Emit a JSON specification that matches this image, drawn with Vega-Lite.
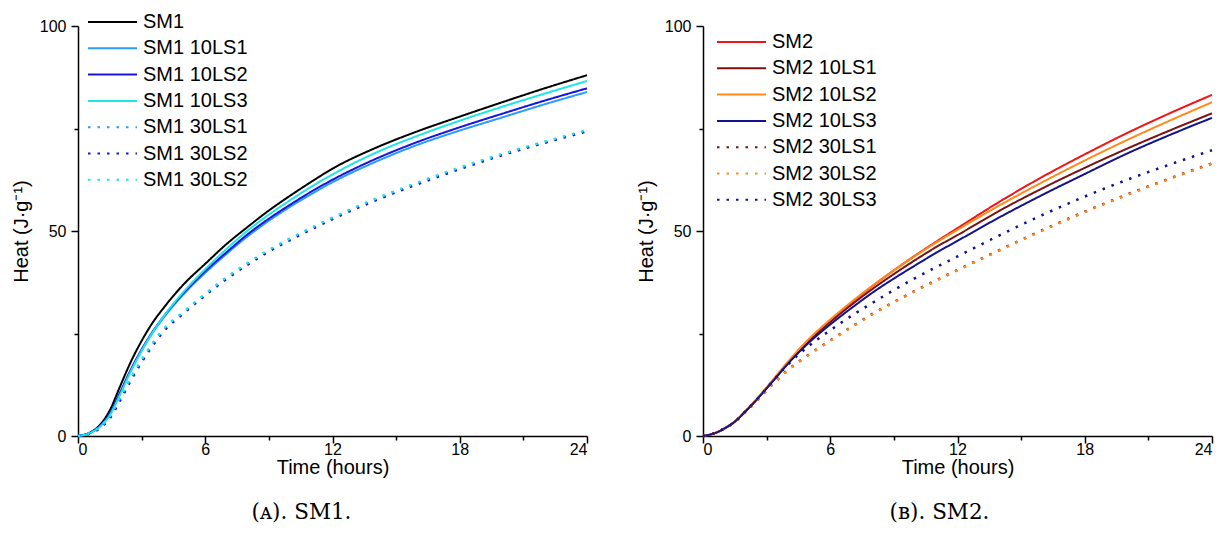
{
"$schema": "https://vega.github.io/schema/vega-lite/v6.json",
"background": "white",
"padding": {"left": 11, "top": 12, "right": 5, "bottom": 5},
"bounds": "flush",
"spacing": 116,
"config": {
  "view": {"stroke": null},
  "font": "Liberation Sans",
  "axis": {"grid": false, "domainColor": "#000", "domainWidth": 1.5, "tickColor": "#000", "tickWidth": 1.5, "labelColor": "#000", "labelFont": "Liberation Sans", "labelFontSize": 16, "titleFont": "Liberation Sans", "titleFontSize": 20, "titleFontWeight": "normal", "titleColor": "#000"}
},
"resolve": {"scale": {"color": "independent", "strokeDash": "independent"}, "legend": {"color": "independent", "strokeDash": "independent"}},
"datasets": {
"sm1": [
{"series":"SM1","time":0,"heat":0},{"series":"SM1","time":0.5,"heat":0.7},{"series":"SM1","time":1,"heat":2.5},{"series":"SM1","time":1.5,"heat":6.3},{"series":"SM1","time":2,"heat":12.3},{"series":"SM1","time":2.5,"heat":18.2},{"series":"SM1","time":3,"heat":23.2},{"series":"SM1","time":3.5,"heat":27.5},{"series":"SM1","time":4,"heat":31},{"series":"SM1","time":5,"heat":37.1},{"series":"SM1","time":6,"heat":42},{"series":"SM1","time":7,"heat":46.8},{"series":"SM1","time":8,"heat":51},{"series":"SM1","time":9,"heat":55},{"series":"SM1","time":10,"heat":58.6},{"series":"SM1","time":11,"heat":62},{"series":"SM1","time":12,"heat":65.2},{"series":"SM1","time":14,"heat":70.2},{"series":"SM1","time":16,"heat":74.3},{"series":"SM1","time":18,"heat":77.9},{"series":"SM1","time":20,"heat":81.4},{"series":"SM1","time":22,"heat":84.8},{"series":"SM1","time":24,"heat":88},
{"series":"SM1 10LS1","time":0,"heat":0},{"series":"SM1 10LS1","time":0.5,"heat":0.6},{"series":"SM1 10LS1","time":1,"heat":2.2},{"series":"SM1 10LS1","time":1.5,"heat":5.3},{"series":"SM1 10LS1","time":2,"heat":10.5},{"series":"SM1 10LS1","time":2.5,"heat":16},{"series":"SM1 10LS1","time":3,"heat":20.8},{"series":"SM1 10LS1","time":3.5,"heat":25},{"series":"SM1 10LS1","time":4,"heat":28.6},{"series":"SM1 10LS1","time":5,"heat":34.7},{"series":"SM1 10LS1","time":6,"heat":39.8},{"series":"SM1 10LS1","time":7,"heat":44.4},{"series":"SM1 10LS1","time":8,"heat":48.7},{"series":"SM1 10LS1","time":9,"heat":52.5},{"series":"SM1 10LS1","time":10,"heat":55.9},{"series":"SM1 10LS1","time":11,"heat":59},{"series":"SM1 10LS1","time":12,"heat":61.9},{"series":"SM1 10LS1","time":14,"heat":66.8},{"series":"SM1 10LS1","time":16,"heat":71},{"series":"SM1 10LS1","time":18,"heat":74.5},{"series":"SM1 10LS1","time":20,"heat":77.7},{"series":"SM1 10LS1","time":22,"heat":80.9},{"series":"SM1 10LS1","time":24,"heat":83.9},
{"series":"SM1 10LS2","time":0,"heat":0},{"series":"SM1 10LS2","time":0.5,"heat":0.6},{"series":"SM1 10LS2","time":1,"heat":2.3},{"series":"SM1 10LS2","time":1.5,"heat":5.5},{"series":"SM1 10LS2","time":2,"heat":10.8},{"series":"SM1 10LS2","time":2.5,"heat":16.3},{"series":"SM1 10LS2","time":3,"heat":21.1},{"series":"SM1 10LS2","time":3.5,"heat":25.3},{"series":"SM1 10LS2","time":4,"heat":28.9},{"series":"SM1 10LS2","time":5,"heat":35},{"series":"SM1 10LS2","time":6,"heat":40.2},{"series":"SM1 10LS2","time":7,"heat":44.8},{"series":"SM1 10LS2","time":8,"heat":49.2},{"series":"SM1 10LS2","time":9,"heat":53},{"series":"SM1 10LS2","time":10,"heat":56.4},{"series":"SM1 10LS2","time":11,"heat":59.6},{"series":"SM1 10LS2","time":12,"heat":62.5},{"series":"SM1 10LS2","time":14,"heat":67.5},{"series":"SM1 10LS2","time":16,"heat":71.7},{"series":"SM1 10LS2","time":18,"heat":75.3},{"series":"SM1 10LS2","time":20,"heat":78.6},{"series":"SM1 10LS2","time":22,"heat":81.8},{"series":"SM1 10LS2","time":24,"heat":84.8},
{"series":"SM1 10LS3","time":0,"heat":0},{"series":"SM1 10LS3","time":0.5,"heat":0.6},{"series":"SM1 10LS3","time":1,"heat":2.1},{"series":"SM1 10LS3","time":1.5,"heat":5.1},{"series":"SM1 10LS3","time":2,"heat":10.3},{"series":"SM1 10LS3","time":2.5,"heat":15.9},{"series":"SM1 10LS3","time":3,"heat":20.8},{"series":"SM1 10LS3","time":3.5,"heat":25.1},{"series":"SM1 10LS3","time":4,"heat":28.9},{"series":"SM1 10LS3","time":5,"heat":35.3},{"series":"SM1 10LS3","time":6,"heat":40.7},{"series":"SM1 10LS3","time":7,"heat":45.6},{"series":"SM1 10LS3","time":8,"heat":50.1},{"series":"SM1 10LS3","time":9,"heat":54},{"series":"SM1 10LS3","time":10,"heat":57.5},{"series":"SM1 10LS3","time":11,"heat":60.8},{"series":"SM1 10LS3","time":12,"heat":63.8},{"series":"SM1 10LS3","time":14,"heat":69},{"series":"SM1 10LS3","time":16,"heat":73.2},{"series":"SM1 10LS3","time":18,"heat":76.9},{"series":"SM1 10LS3","time":20,"heat":80.3},{"series":"SM1 10LS3","time":22,"heat":83.5},{"series":"SM1 10LS3","time":24,"heat":86.6},
{"series":"SM1 30LS1","time":0,"heat":0},{"series":"SM1 30LS1","time":0.5,"heat":0.6},{"series":"SM1 30LS1","time":1,"heat":2},{"series":"SM1 30LS1","time":1.5,"heat":4.6},{"series":"SM1 30LS1","time":2,"heat":9.2},{"series":"SM1 30LS1","time":2.5,"heat":14},{"series":"SM1 30LS1","time":3,"heat":18.3},{"series":"SM1 30LS1","time":3.5,"heat":22.2},{"series":"SM1 30LS1","time":4,"heat":25.6},{"series":"SM1 30LS1","time":5,"heat":30.2},{"series":"SM1 30LS1","time":6,"heat":34.5},{"series":"SM1 30LS1","time":7,"heat":38.5},{"series":"SM1 30LS1","time":8,"heat":42},{"series":"SM1 30LS1","time":9,"heat":45.2},{"series":"SM1 30LS1","time":10,"heat":48},{"series":"SM1 30LS1","time":11,"heat":50.6},{"series":"SM1 30LS1","time":12,"heat":53.1},{"series":"SM1 30LS1","time":14,"heat":57.6},{"series":"SM1 30LS1","time":16,"heat":61.6},{"series":"SM1 30LS1","time":18,"heat":65.3},{"series":"SM1 30LS1","time":20,"heat":68.6},{"series":"SM1 30LS1","time":22,"heat":71.6},{"series":"SM1 30LS1","time":24,"heat":74.4},
{"series":"SM1 30LS2","time":0,"heat":0},{"series":"SM1 30LS2","time":0.5,"heat":0.5},{"series":"SM1 30LS2","time":1,"heat":1.8},{"series":"SM1 30LS2","time":1.5,"heat":4.3},{"series":"SM1 30LS2","time":2,"heat":8.8},{"series":"SM1 30LS2","time":2.5,"heat":13.6},{"series":"SM1 30LS2","time":3,"heat":18},{"series":"SM1 30LS2","time":3.5,"heat":21.9},{"series":"SM1 30LS2","time":4,"heat":25.3},{"series":"SM1 30LS2","time":5,"heat":30},{"series":"SM1 30LS2","time":6,"heat":34.3},{"series":"SM1 30LS2","time":7,"heat":38.3},{"series":"SM1 30LS2","time":8,"heat":41.8},{"series":"SM1 30LS2","time":9,"heat":45},{"series":"SM1 30LS2","time":10,"heat":47.8},{"series":"SM1 30LS2","time":11,"heat":50.4},{"series":"SM1 30LS2","time":12,"heat":52.9},{"series":"SM1 30LS2","time":14,"heat":57.4},{"series":"SM1 30LS2","time":16,"heat":61.4},{"series":"SM1 30LS2","time":18,"heat":65.1},{"series":"SM1 30LS2","time":20,"heat":68.5},{"series":"SM1 30LS2","time":22,"heat":71.5},{"series":"SM1 30LS2","time":24,"heat":74.3},
{"series":"SM1 30LS3","time":0,"heat":0},{"series":"SM1 30LS3","time":0.5,"heat":0.6},{"series":"SM1 30LS3","time":1,"heat":2.1},{"series":"SM1 30LS3","time":1.5,"heat":4.8},{"series":"SM1 30LS3","time":2,"heat":9.5},{"series":"SM1 30LS3","time":2.5,"heat":14.3},{"series":"SM1 30LS3","time":3,"heat":18.6},{"series":"SM1 30LS3","time":3.5,"heat":22.5},{"series":"SM1 30LS3","time":4,"heat":25.9},{"series":"SM1 30LS3","time":5,"heat":30.4},{"series":"SM1 30LS3","time":6,"heat":34.7},{"series":"SM1 30LS3","time":7,"heat":38.7},{"series":"SM1 30LS3","time":8,"heat":42.2},{"series":"SM1 30LS3","time":9,"heat":45.4},{"series":"SM1 30LS3","time":10,"heat":48.2},{"series":"SM1 30LS3","time":11,"heat":50.8},{"series":"SM1 30LS3","time":12,"heat":53.3},{"series":"SM1 30LS3","time":14,"heat":57.8},{"series":"SM1 30LS3","time":16,"heat":61.8},{"series":"SM1 30LS3","time":18,"heat":65.5},{"series":"SM1 30LS3","time":20,"heat":68.8},{"series":"SM1 30LS3","time":22,"heat":71.8},{"series":"SM1 30LS3","time":24,"heat":74.6}
],
"sm2": [
{"series":"SM2","time":0,"heat":0},{"series":"SM2","time":0.5,"heat":0.6},{"series":"SM2","time":1,"heat":1.8},{"series":"SM2","time":1.5,"heat":3.5},{"series":"SM2","time":2,"heat":6},{"series":"SM2","time":2.5,"heat":8.7},{"series":"SM2","time":3,"heat":11.7},{"series":"SM2","time":3.5,"heat":14.8},{"series":"SM2","time":4,"heat":17.9},{"series":"SM2","time":5,"heat":23.5},{"series":"SM2","time":6,"heat":28.2},{"series":"SM2","time":7,"heat":32.5},{"series":"SM2","time":8,"heat":36.6},{"series":"SM2","time":9,"heat":40.4},{"series":"SM2","time":10,"heat":44},{"series":"SM2","time":11,"heat":47.4},{"series":"SM2","time":12,"heat":50.7},{"series":"SM2","time":14,"heat":57.2},{"series":"SM2","time":16,"heat":63.2},{"series":"SM2","time":18,"heat":68.7},{"series":"SM2","time":20,"heat":73.9},{"series":"SM2","time":22,"heat":78.7},{"series":"SM2","time":24,"heat":83.2},
{"series":"SM2 10LS1","time":0,"heat":0},{"series":"SM2 10LS1","time":0.5,"heat":0.6},{"series":"SM2 10LS1","time":1,"heat":1.8},{"series":"SM2 10LS1","time":1.5,"heat":3.5},{"series":"SM2 10LS1","time":2,"heat":6},{"series":"SM2 10LS1","time":2.5,"heat":8.7},{"series":"SM2 10LS1","time":3,"heat":11.7},{"series":"SM2 10LS1","time":3.5,"heat":14.7},{"series":"SM2 10LS1","time":4,"heat":17.7},{"series":"SM2 10LS1","time":5,"heat":23.2},{"series":"SM2 10LS1","time":6,"heat":27.8},{"series":"SM2 10LS1","time":7,"heat":32},{"series":"SM2 10LS1","time":8,"heat":35.9},{"series":"SM2 10LS1","time":9,"heat":39.5},{"series":"SM2 10LS1","time":10,"heat":42.9},{"series":"SM2 10LS1","time":11,"heat":46.1},{"series":"SM2 10LS1","time":12,"heat":49},{"series":"SM2 10LS1","time":14,"heat":55},{"series":"SM2 10LS1","time":16,"heat":60.4},{"series":"SM2 10LS1","time":18,"heat":65.4},{"series":"SM2 10LS1","time":20,"heat":70.1},{"series":"SM2 10LS1","time":22,"heat":74.5},{"series":"SM2 10LS1","time":24,"heat":78.7},
{"series":"SM2 10LS2","time":0,"heat":0},{"series":"SM2 10LS2","time":0.5,"heat":0.6},{"series":"SM2 10LS2","time":1,"heat":1.8},{"series":"SM2 10LS2","time":1.5,"heat":3.6},{"series":"SM2 10LS2","time":2,"heat":6.1},{"series":"SM2 10LS2","time":2.5,"heat":8.9},{"series":"SM2 10LS2","time":3,"heat":11.9},{"series":"SM2 10LS2","time":3.5,"heat":15},{"series":"SM2 10LS2","time":4,"heat":18.1},{"series":"SM2 10LS2","time":5,"heat":23.7},{"series":"SM2 10LS2","time":6,"heat":28.4},{"series":"SM2 10LS2","time":7,"heat":32.7},{"series":"SM2 10LS2","time":8,"heat":36.7},{"series":"SM2 10LS2","time":9,"heat":40.4},{"series":"SM2 10LS2","time":10,"heat":43.9},{"series":"SM2 10LS2","time":11,"heat":47.2},{"series":"SM2 10LS2","time":12,"heat":50.3},{"series":"SM2 10LS2","time":14,"heat":56.3},{"series":"SM2 10LS2","time":16,"heat":61.9},{"series":"SM2 10LS2","time":18,"heat":67.2},{"series":"SM2 10LS2","time":20,"heat":72.2},{"series":"SM2 10LS2","time":22,"heat":76.9},{"series":"SM2 10LS2","time":24,"heat":81.4},
{"series":"SM2 10LS3","time":0,"heat":0},{"series":"SM2 10LS3","time":0.5,"heat":0.6},{"series":"SM2 10LS3","time":1,"heat":1.8},{"series":"SM2 10LS3","time":1.5,"heat":3.5},{"series":"SM2 10LS3","time":2,"heat":6},{"series":"SM2 10LS3","time":2.5,"heat":8.7},{"series":"SM2 10LS3","time":3,"heat":11.6},{"series":"SM2 10LS3","time":3.5,"heat":14.6},{"series":"SM2 10LS3","time":4,"heat":17.6},{"series":"SM2 10LS3","time":5,"heat":22.8},{"series":"SM2 10LS3","time":6,"heat":27.2},{"series":"SM2 10LS3","time":7,"heat":31.2},{"series":"SM2 10LS3","time":8,"heat":35},{"series":"SM2 10LS3","time":9,"heat":38.4},{"series":"SM2 10LS3","time":10,"heat":41.6},{"series":"SM2 10LS3","time":11,"heat":44.7},{"series":"SM2 10LS3","time":12,"heat":47.6},{"series":"SM2 10LS3","time":14,"heat":53.4},{"series":"SM2 10LS3","time":16,"heat":58.8},{"series":"SM2 10LS3","time":18,"heat":63.9},{"series":"SM2 10LS3","time":20,"heat":68.9},{"series":"SM2 10LS3","time":22,"heat":73.4},{"series":"SM2 10LS3","time":24,"heat":77.6},
{"series":"SM2 30LS1","time":0,"heat":0},{"series":"SM2 30LS1","time":0.5,"heat":0.6},{"series":"SM2 30LS1","time":1,"heat":1.8},{"series":"SM2 30LS1","time":1.5,"heat":3.4},{"series":"SM2 30LS1","time":2,"heat":5.8},{"series":"SM2 30LS1","time":2.5,"heat":8.4},{"series":"SM2 30LS1","time":3,"heat":11.1},{"series":"SM2 30LS1","time":3.5,"heat":13.7},{"series":"SM2 30LS1","time":4,"heat":16.1},{"series":"SM2 30LS1","time":5,"heat":19.9},{"series":"SM2 30LS1","time":6,"heat":23.3},{"series":"SM2 30LS1","time":7,"heat":26.6},{"series":"SM2 30LS1","time":8,"heat":29.8},{"series":"SM2 30LS1","time":9,"heat":32.7},{"series":"SM2 30LS1","time":10,"heat":35.4},{"series":"SM2 30LS1","time":11,"heat":38},{"series":"SM2 30LS1","time":12,"heat":40.5},{"series":"SM2 30LS1","time":14,"heat":45.4},{"series":"SM2 30LS1","time":16,"heat":50.2},{"series":"SM2 30LS1","time":18,"heat":54.7},{"series":"SM2 30LS1","time":20,"heat":58.9},{"series":"SM2 30LS1","time":22,"heat":62.8},{"series":"SM2 30LS1","time":24,"heat":66.5},
{"series":"SM2 30LS2","time":0,"heat":0},{"series":"SM2 30LS2","time":0.5,"heat":0.6},{"series":"SM2 30LS2","time":1,"heat":1.8},{"series":"SM2 30LS2","time":1.5,"heat":3.4},{"series":"SM2 30LS2","time":2,"heat":5.8},{"series":"SM2 30LS2","time":2.5,"heat":8.4},{"series":"SM2 30LS2","time":3,"heat":11.1},{"series":"SM2 30LS2","time":3.5,"heat":13.7},{"series":"SM2 30LS2","time":4,"heat":16},{"series":"SM2 30LS2","time":5,"heat":19.8},{"series":"SM2 30LS2","time":6,"heat":23.2},{"series":"SM2 30LS2","time":7,"heat":26.5},{"series":"SM2 30LS2","time":8,"heat":29.7},{"series":"SM2 30LS2","time":9,"heat":32.6},{"series":"SM2 30LS2","time":10,"heat":35.3},{"series":"SM2 30LS2","time":11,"heat":37.9},{"series":"SM2 30LS2","time":12,"heat":40.4},{"series":"SM2 30LS2","time":14,"heat":45.3},{"series":"SM2 30LS2","time":16,"heat":50.1},{"series":"SM2 30LS2","time":18,"heat":54.6},{"series":"SM2 30LS2","time":20,"heat":58.8},{"series":"SM2 30LS2","time":22,"heat":62.7},{"series":"SM2 30LS2","time":24,"heat":66.4},
{"series":"SM2 30LS3","time":0,"heat":0},{"series":"SM2 30LS3","time":0.5,"heat":0.6},{"series":"SM2 30LS3","time":1,"heat":1.8},{"series":"SM2 30LS3","time":1.5,"heat":3.5},{"series":"SM2 30LS3","time":2,"heat":6},{"series":"SM2 30LS3","time":2.5,"heat":8.7},{"series":"SM2 30LS3","time":3,"heat":11.6},{"series":"SM2 30LS3","time":3.5,"heat":14.6},{"series":"SM2 30LS3","time":4,"heat":17.4},{"series":"SM2 30LS3","time":5,"heat":22},{"series":"SM2 30LS3","time":6,"heat":25.8},{"series":"SM2 30LS3","time":7,"heat":29.3},{"series":"SM2 30LS3","time":8,"heat":32.5},{"series":"SM2 30LS3","time":9,"heat":35.6},{"series":"SM2 30LS3","time":10,"heat":38.5},{"series":"SM2 30LS3","time":11,"heat":41.2},{"series":"SM2 30LS3","time":12,"heat":43.8},{"series":"SM2 30LS3","time":14,"heat":49},{"series":"SM2 30LS3","time":16,"heat":53.9},{"series":"SM2 30LS3","time":18,"heat":58.4},{"series":"SM2 30LS3","time":20,"heat":62.5},{"series":"SM2 30LS3","time":22,"heat":66.2},{"series":"SM2 30LS3","time":24,"heat":69.7}
]
},
"hconcat": [
{
  "width": 509, "height": 410,
  "data": {"name": "sm1"},
  "title": {"text": "(ᴀ). SM1.", "orient": "bottom", "font": "DejaVu Serif", "fontSize": 21.5, "fontWeight": "normal", "color": "#000", "offset": 25, "dx": -31},
  "resolve": {"axis": {"x": "independent", "y": "independent"}},
  "layer": [
    {
      "transform": [{"filter": "indexof(datum.series, '30LS') < 0"}],
      "mark": {"type": "line", "strokeWidth": 2, "interpolate": "monotone"},
      "encoding": {
        "x": {"field": "time", "type": "quantitative", "scale": {"domain": [0, 24], "nice": false}, "axis": {"values": [0, 6, 12, 18, 24], "tickSize": 7, "labelPadding": -2, "title": "Time (hours)", "titlePadding": 0}},
        "y": {"field": "heat", "type": "quantitative", "scale": {"domain": [0, 100], "nice": false}, "axis": {"values": [0, 50, 100], "tickSize": 7, "labelPadding": 5, "title": "Heat (J·g⁻¹)", "titlePadding": 8}},
        "color": {"field": "series", "type": "nominal", "scale": {"domain": ["SM1", "SM1 10LS1", "SM1 10LS2", "SM1 10LS3", "SM1 30LS1", "SM1 30LS2", "SM1 30LS3"], "range": ["#000000", "#2a9df4", "#1515e0", "#1ee6e6", "#2a9df4", "#1515e0", "#1ee6e6"]},
          "legend": {"orient": "none", "legendX": 9, "legendY": -14, "title": null, "symbolType": "stroke", "symbolSize": 2400, "symbolStrokeWidth": 2, "clipHeight": 20, "labelFontSize": 20, "labelFont": "Liberation Sans", "labelColor": "#000", "rowPadding": 6.3, "labelOffset": 5, "padding": 0, "labelExpr": "datum.label == 'SM1 30LS3' ? 'SM1 30LS2' : datum.label"}},
        "strokeDash": {"field": "series", "type": "nominal", "scale": {"domain": ["SM1", "SM1 10LS1", "SM1 10LS2", "SM1 10LS3", "SM1 30LS1", "SM1 30LS2", "SM1 30LS3"], "range": [[1, 0], [1, 0], [1, 0], [1, 0], [2.5, 7], [2.5, 7], [2.5, 7]]},
          "legend": {"orient": "none", "legendX": 9, "legendY": -14, "title": null, "symbolType": "stroke", "symbolSize": 2400, "symbolStrokeWidth": 2, "clipHeight": 20, "labelFontSize": 20, "labelFont": "Liberation Sans", "labelColor": "#000", "rowPadding": 6.3, "labelOffset": 5, "padding": 0, "labelExpr": "datum.label == 'SM1 30LS3' ? 'SM1 30LS2' : datum.label"}}
      }
    },
    {
      "transform": [{"filter": "indexof(datum.series, '30LS') >= 0"}],
      "mark": {"type": "line", "strokeWidth": 2.5, "interpolate": "monotone"},
      "encoding": {
        "x": {"field": "time", "type": "quantitative", "axis": {"values": [3, 9, 15, 21], "orient": "bottom", "labels": false, "domain": false, "tickSize": 4, "title": null}},
        "y": {"field": "heat", "type": "quantitative", "axis": {"values": [25, 75], "orient": "left", "labels": false, "domain": false, "tickSize": 4, "title": null}},
        "color": {"field": "series", "type": "nominal"},
        "strokeDash": {"field": "series", "type": "nominal"}
      }
    }
  ]
},
{
  "width": 509, "height": 410,
  "data": {"name": "sm2"},
  "title": {"text": "(ʙ). SM2.", "orient": "bottom", "font": "DejaVu Serif", "fontSize": 21.5, "fontWeight": "normal", "color": "#000", "offset": 25, "dx": -18},
  "resolve": {"axis": {"x": "independent", "y": "independent"}},
  "layer": [
    {
      "transform": [{"filter": "indexof(datum.series, '30LS') < 0"}],
      "mark": {"type": "line", "strokeWidth": 2, "interpolate": "monotone"},
      "encoding": {
        "x": {"field": "time", "type": "quantitative", "scale": {"domain": [0, 24], "nice": false}, "axis": {"values": [0, 6, 12, 18, 24], "tickSize": 7, "labelPadding": -2, "title": "Time (hours)", "titlePadding": 0}},
        "y": {"field": "heat", "type": "quantitative", "scale": {"domain": [0, 100], "nice": false}, "axis": {"values": [0, 50, 100], "tickSize": 7, "labelPadding": 5, "title": "Heat (J·g⁻¹)", "titlePadding": 8}},
        "color": {"field": "series", "type": "nominal", "scale": {"domain": ["SM2", "SM2 10LS1", "SM2 10LS2", "SM2 10LS3", "SM2 30LS1", "SM2 30LS2", "SM2 30LS3"], "range": ["#f01414", "#7a1212", "#ff8a1c", "#12128a", "#7a1212", "#ff8a1c", "#12128a"]},
          "legend": {"orient": "none", "legendX": 13, "legendY": 6, "title": null, "symbolType": "stroke", "symbolSize": 2400, "symbolStrokeWidth": 2, "clipHeight": 20, "labelFontSize": 20, "labelFont": "Liberation Sans", "labelColor": "#000", "rowPadding": 6.3, "labelOffset": 5, "padding": 0}},
        "strokeDash": {"field": "series", "type": "nominal", "scale": {"domain": ["SM2", "SM2 10LS1", "SM2 10LS2", "SM2 10LS3", "SM2 30LS1", "SM2 30LS2", "SM2 30LS3"], "range": [[1, 0], [1, 0], [1, 0], [1, 0], [2.5, 7], [2.5, 7], [2.5, 7]]},
          "legend": {"orient": "none", "legendX": 13, "legendY": 6, "title": null, "symbolType": "stroke", "symbolSize": 2400, "symbolStrokeWidth": 2, "clipHeight": 20, "labelFontSize": 20, "labelFont": "Liberation Sans", "labelColor": "#000", "rowPadding": 6.3, "labelOffset": 5, "padding": 0}}
      }
    },
    {
      "transform": [{"filter": "indexof(datum.series, '30LS') >= 0"}],
      "mark": {"type": "line", "strokeWidth": 2.5, "interpolate": "monotone"},
      "encoding": {
        "x": {"field": "time", "type": "quantitative", "axis": {"values": [3, 9, 15, 21], "orient": "bottom", "labels": false, "domain": false, "tickSize": 4, "title": null}},
        "y": {"field": "heat", "type": "quantitative", "axis": {"values": [25, 75], "orient": "left", "labels": false, "domain": false, "tickSize": 4, "title": null}},
        "color": {"field": "series", "type": "nominal"},
        "strokeDash": {"field": "series", "type": "nominal"}
      }
    }
  ]
}
]
}
